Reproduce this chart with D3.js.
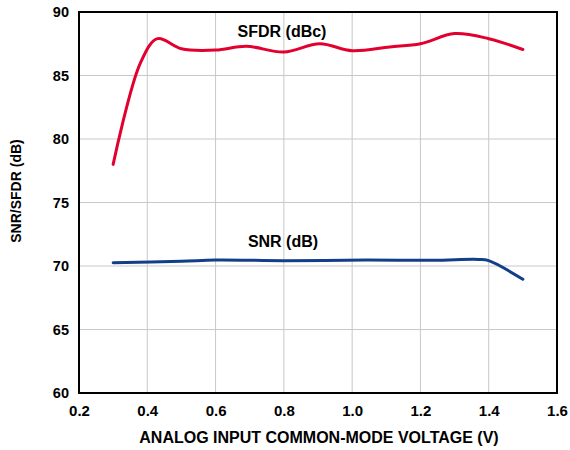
<!DOCTYPE html>
<html>
<head>
<meta charset="utf-8">
<script src="https://cdn.jsdelivr.net/npm/d3@7"></script>
<style>
  html, body { margin: 0; padding: 0; background: #fff; }
  svg { display: block; font-family: "Liberation Sans", Arial, sans-serif; }
</style>
</head>
<body>
<svg id="chart" width="570" height="450"></svg>
<script>
// Input common-mode voltage (V) and measured performance
const sfdrVoltage = [0.30, 0.38, 0.43, 0.50, 0.60, 0.69, 0.80, 0.905, 1.00, 1.11, 1.20, 1.30, 1.40, 1.50];
const sfdrValues  = [78.0, 86.0, 87.9, 87.1, 87.0, 87.3, 86.85, 87.5, 86.95, 87.25, 87.5, 88.3, 87.9, 87.05];
const snrVoltage  = [0.30, 0.50, 0.60, 0.80, 1.04, 1.24, 1.37, 1.40, 1.50];
const snrValues   = [70.26, 70.37, 70.47, 70.42, 70.47, 70.45, 70.52, 70.42, 68.95];
const xTicks = [0.2, 0.4, 0.6, 0.8, 1.0, 1.2, 1.4, 1.6];
const yTicks = [60, 65, 70, 75, 80, 85, 90];

const svg = d3.select("#chart");
const plotL = 79, plotR = 557, plotT = 12, plotB = 393;

const x = d3.scaleLinear().domain([0.2, 1.6]).range([plotL, plotR]);
const y = d3.scaleLinear().domain([60, 90]).range([plotB, plotT]);

// grid
const grid = svg.append("g").attr("stroke", "#c8c8c8").attr("stroke-width", 1);
xTicks.slice(1, -1).forEach(t => grid.append("line")
  .attr("x1", x(t)).attr("x2", x(t)).attr("y1", plotT).attr("y2", plotB));
yTicks.slice(1, -1).forEach(t => grid.append("line")
  .attr("x1", plotL).attr("x2", plotR).attr("y1", y(t)).attr("y2", y(t)));

// frame
svg.append("rect").attr("x", plotL).attr("y", plotT)
  .attr("width", plotR - plotL).attr("height", plotB - plotT)
  .attr("fill", "none").attr("stroke", "#000").attr("stroke-width", 2);

// axes labels
const xAxis = d3.axisBottom(x).tickValues(xTicks).tickFormat(d3.format(".1f")).tickSize(0).tickPadding(12);
svg.append("g").attr("transform", `translate(0,${plotB})`).call(xAxis)
  .call(g => g.select(".domain").remove())
  .selectAll("text").attr("font-size", 15).attr("font-weight", "bold").attr("fill", "#000")
  .attr("font-family", "Liberation Sans, Arial, sans-serif");

const yAxis = d3.axisLeft(y).tickValues(yTicks).tickFormat(d3.format("d")).tickSize(0).tickPadding(10);
svg.append("g").attr("transform", `translate(${plotL},0)`).call(yAxis)
  .call(g => g.select(".domain").remove())
  .selectAll("text").attr("font-size", 14.5).attr("font-weight", "bold").attr("fill", "#000")
  .attr("font-family", "Liberation Sans, Arial, sans-serif");

svg.append("text").attr("x", 319).attr("y", 443)
  .attr("text-anchor", "middle").attr("font-size", 16).attr("font-weight", "bold")
  .text("ANALOG INPUT COMMON-MODE VOLTAGE (V)");

svg.append("text").attr("transform", "translate(21,191) rotate(-90)")
  .attr("text-anchor", "middle").attr("font-size", 14).attr("font-weight", "bold")
  .text("SNR/SFDR (dB)");

// curves
const line = d3.line().x(d => x(d[0])).y(d => y(d[1])).curve(d3.curveCatmullRom.alpha(0.5));

svg.append("path").datum(d3.zip(sfdrVoltage, sfdrValues))
  .attr("d", line).attr("fill", "none").attr("stroke", "#e2002f").attr("stroke-width", 3)
  .attr("stroke-linejoin", "round").attr("stroke-linecap", "round");

svg.append("path").datum(d3.zip(snrVoltage, snrValues))
  .attr("d", line).attr("fill", "none").attr("stroke", "#123f8a").attr("stroke-width", 3)
  .attr("stroke-linejoin", "round").attr("stroke-linecap", "round");

// series labels
svg.append("text").attr("x", 282).attr("y", 37).attr("text-anchor", "middle")
  .attr("font-size", 16).attr("font-weight", "bold").text("SFDR (dBc)");
svg.append("text").attr("x", 283).attr("y", 247).attr("text-anchor", "middle")
  .attr("font-size", 16).attr("font-weight", "bold").text("SNR (dB)");
</script>
</body>
</html>
